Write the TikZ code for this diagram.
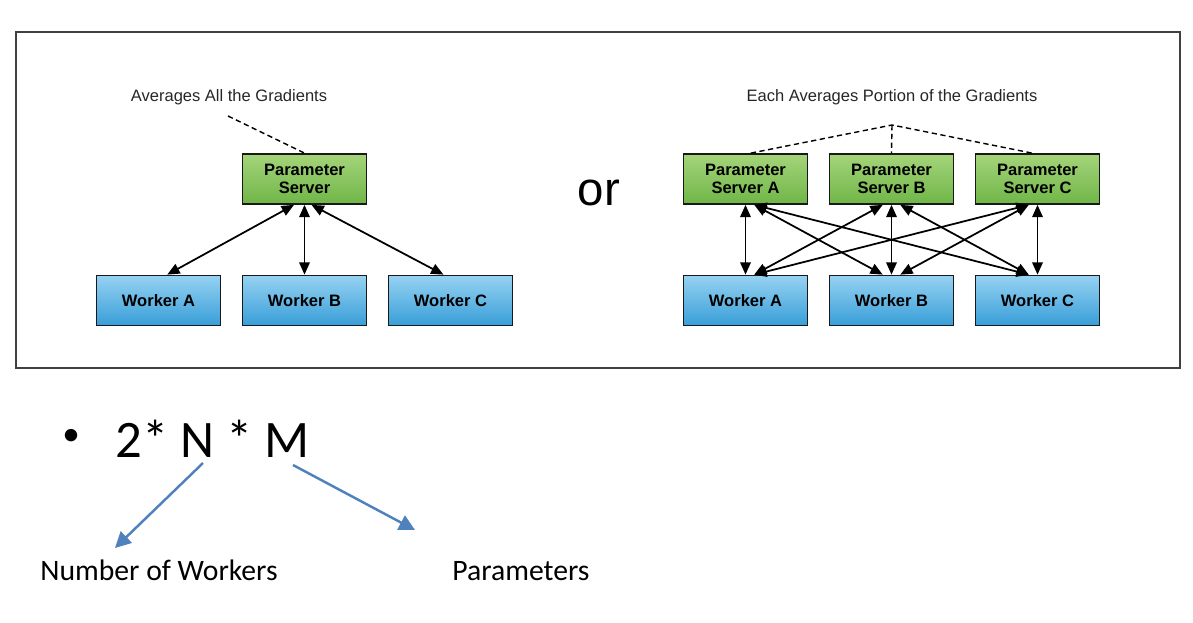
\documentclass[tikz,border=0pt]{standalone}
\usepackage{fontspec}
\setmainfont{Liberation Sans}
\newfontfamily\calibri{Carlito}
\usetikzlibrary{arrows.meta,positioning}

\definecolor{srvtop}{RGB}{164,212,122}
\definecolor{srvbot}{RGB}{112,182,72}
\definecolor{wrktop}{RGB}{150,210,242}
\definecolor{wrkbot}{RGB}{56,158,216}
\definecolor{officeblue}{RGB}{79,129,189}

\tikzset{
  server/.style={draw=black!90, line width=1pt, minimum width=2.48cm, minimum height=1.0cm,
    top color=srvtop, bottom color=srvbot, align=center, inner sep=0pt,
    font=\fontsize{9.4}{10.6}\selectfont\bfseries},
  worker/.style={server, top color=wrktop, bottom color=wrkbot},
  link/.style={{Triangle[length=7pt,width=6pt]}-{Triangle[length=7pt,width=6pt]}, line width=1pt},
  note/.style={dash pattern=on 3pt off 2pt, line width=0.8pt},
  caption/.style={font=\fontsize{9.4}{10.8}\selectfont, text=black!85, inner sep=0pt},
  callout/.style={-{Triangle[length=9pt,width=9pt]}, line width=1.4pt, draw=officeblue},
  bigtext/.style={font=\calibri\fontsize{30}{34}\selectfont, inner sep=0pt},
  smalltext/.style={font=\calibri\fontsize{16.9}{19}\selectfont, inner sep=0pt}
}

\begin{document}
\begin{tikzpicture}[x=0.02cm,y=-0.02cm]
\useasboundingbox (0,0) rectangle (1193,622);

% frame
\draw[black!75, line width=1pt] (16,32) rectangle (1180,368);

% one parameter server
\node[server] (ps) at (304.5,179) {Parameter\\Server};
\node[worker] (lwa) at (158.5,300.5) {Worker A};
\node[worker] (lwb) at (304.5,300.5) {Worker B};
\node[worker] (lwc) at (450.5,300.5) {Worker C};

\draw[link] ([xshift=-6pt]ps.south) -- ([xshift=5pt]lwa.north);
\draw[link] (ps.south) -- (lwb.north);
\draw[link] ([xshift=4pt]ps.south) -- ([xshift=-4pt]lwc.north);

\node[caption] (lnote) at (229,97) {Averages All the Gradients};
\coordinate (lpt) at (228,116);
\draw[note] (lpt) -- (ps.north);

\node[font=\fontsize{27}{30}\selectfont, inner sep=0pt] (or) at (599,193) {or};

% several parameter servers
\node[server] (sa) at (745.5,179) {Parameter\\Server A};
\node[server] (sb) at (891.5,179) {Parameter\\Server B};
\node[server] (sc) at (1037.5,179) {Parameter\\Server C};
\node[worker] (wa) at (745.5,300.5) {Worker A};
\node[worker] (wb) at (891.5,300.5) {Worker B};
\node[worker] (wc) at (1037.5,300.5) {Worker C};

\foreach \s/\i in {sa/1,sb/2,sc/3}
{
   \foreach \w/\j in {wa/1,wb/2,wc/3}
   {
      \pgfmathsetmacro\d{5*sign(\j-\i)}
      \draw[link] ([xshift=\d pt]\s.south) -- ([xshift=-\d pt]\w.north);
   }
}

\node[caption] (rnote) at (892,97) {Each Averages Portion of the Gradients};
\coordinate (rpt) at (892,125);
\draw[note] ([xshift=3pt]sa.north) -- (rpt) -- ([xshift=-3pt]sc.north);
\draw[note] (rpt) -- (sb.north);

% formula
\node[font=\calibri\fontsize{20}{24}\selectfont, inner sep=0pt] (dot) at (71,437) {•};
\node[bigtext, anchor=base west] (formula) at (115,457) {2* N * M};
\coordinate (nstart) at (203,463);
\coordinate (nend) at (115,548);
\coordinate (mstart) at (293,465);
\coordinate (mend) at (415,530);
\draw[callout] (nstart) -- (nend);
\draw[callout] (mstart) -- (mend);
\node[smalltext, anchor=base west] (workers) at (40,580) {Number of Workers};
\node[smalltext, anchor=base west] (params) at (452,580) {Parameters};

\end{tikzpicture}
\end{document}
